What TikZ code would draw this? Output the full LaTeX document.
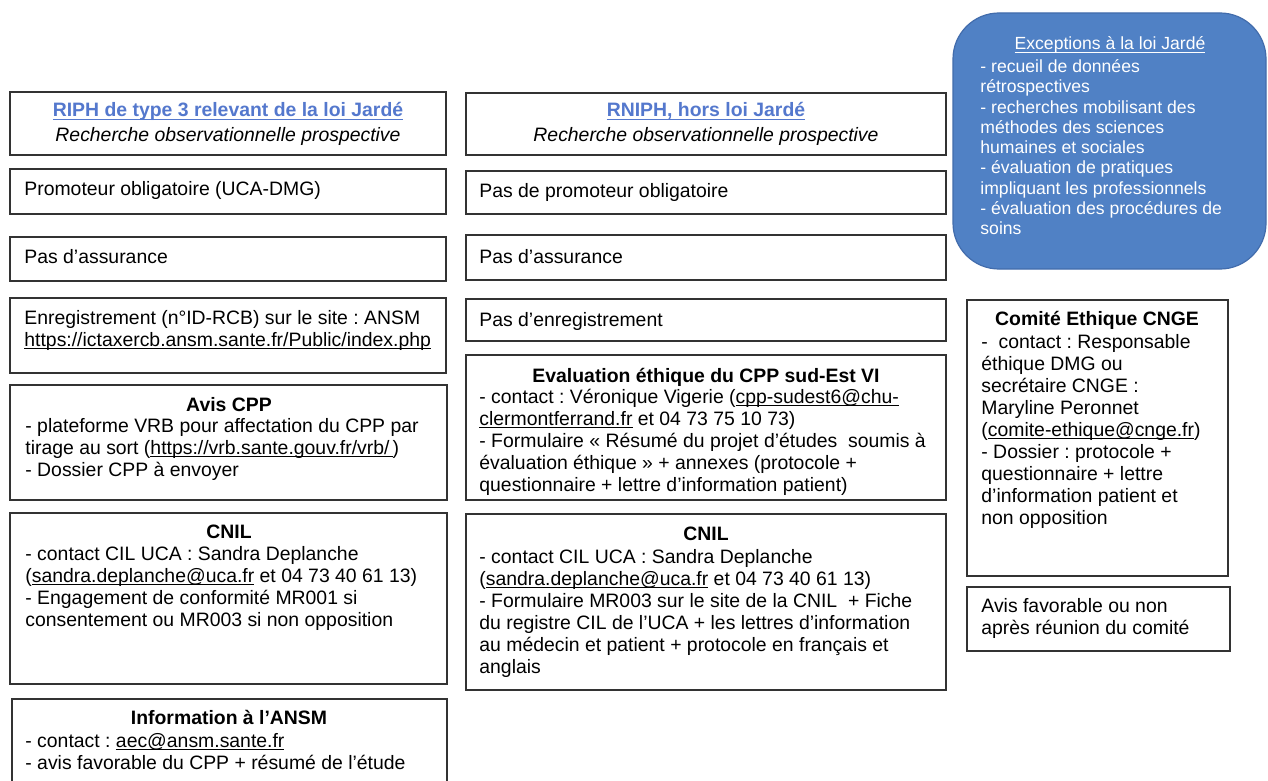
\documentclass[tikz,border=0pt]{standalone}
\usepackage{fontspec}
\setmainfont{Liberation Sans}
\usetikzlibrary{fit}
\definecolor{linkblue}{RGB}{84,120,205}
\definecolor{excfill}{RGB}{80,129,197}
\definecolor{excdraw}{RGB}{66,108,172}
\newsavebox\ulnkbox
\newcommand\ulnk[1]{\sbox\ulnkbox{#1}\rlap{\rule[-1.3pt]{\wd\ulnkbox}{0.5pt}}\usebox\ulnkbox}
\frenchspacing
\tikzset{
  boxst/.style={draw=black!80, line width=0.9pt, inner sep=0pt},
  bodytxt/.style={anchor=north west, inner sep=0pt, align=left, font=\fontsize{9.7}{11}\selectfont},
  titletxt/.style={anchor=base, inner sep=0pt, font=\fontsize{9.7}{11}\selectfont\bfseries},
  subtxt/.style={anchor=base, inner sep=0pt, font=\fontsize{9.7}{11}\selectfont\itshape},
  excbox/.style={draw=excdraw, fill=excfill, line width=0.6pt, rounded corners=23pt, inner sep=0pt},
  exctitle/.style={anchor=base, inner sep=0pt, text=white, font=\fontsize{8.8}{10.15}\selectfont},
  exctxt/.style={anchor=north west, inner sep=0pt, align=left, text=white, font=\fontsize{8.8}{10.15}\selectfont},
}
\begin{document}
\begin{tikzpicture}[x=0.5pt, y=-0.5pt]
\useasboundingbox (0,0) rectangle (1268,781);
\fill[white] (0,0) rectangle (1268,781);
% ---------- left column ----------
\node[boxst, fit={(10,92) (446,155)}] (L1) {};
\node[titletxt, text=linkblue] (L1t) at (228,117) {\ulnk{RIPH de type 3 relevant de la loi Jardé}};
\node[subtxt] (L1s) at (228,141) {Recherche observationnelle prospective};

\node[boxst, fit={(10,169) (446,214)}] (L2) {};
\node[bodytxt] (L2b) at (24,179.6) {\strut Promoteur obligatoire (UCA-DMG)};

\node[boxst, fit={(10,237) (446,281)}] (L3) {};
\node[bodytxt] (L3b) at (24,247.6) {\strut Pas d'assurance};

\node[boxst, fit={(10,298) (446,373)}] (L4) {};
\node[bodytxt] (L4b) at (24,308.6) {\strut Enregistrement (n°ID-RCB) sur le site : ANSM\\
\ulnk{https://ictaxercb.ansm.sante.fr/Public/index.php}};

\node[boxst, fit={(10,385) (447,500)}] (L5) {};
\node[titletxt] (L5t) at (229,411) {Avis CPP};
\node[bodytxt] (L5b) at (25,416.6) {\strut - plateforme VRB pour affectation du CPP par\\
tirage au sort (\ulnk{https://vrb.sante.gouv.fr/vrb/\,})\\
- Dossier CPP à envoyer};

\node[boxst, fit={(10,513) (447,684)}] (L6) {};
\node[titletxt] (L6t) at (229,538) {CNIL};
\node[bodytxt] (L6b) at (25,544.6) {\strut - contact CIL UCA : Sandra Deplanche\\
(\ulnk{sandra.deplanche@uca.fr} et 04 73 40 61 13)\\
- Engagement de conformité MR001 si\\
consentement ou MR003 si non opposition};

\node[boxst, fit={(12,699) (447,800)}] (L7) {};
\node[titletxt] (L7t) at (229,724) {Information à l'ANSM};
\node[bodytxt] (L7b) at (25,731.6) {\strut - contact : \ulnk{aec@ansm.sante.fr}\\
- avis favorable du CPP + résumé de l'étude};

% ---------- middle column ----------
\node[boxst, fit={(466,93) (946,155)}] (M1) {};
\node[titletxt, text=linkblue] (M1t) at (706,117) {\ulnk{RNIPH, hors loi Jardé}};
\node[subtxt] (M1s) at (706,141) {Recherche observationnelle prospective};

\node[boxst, fit={(466,171) (946,214)}] (M2) {};
\node[bodytxt] (M2b) at (479,181.6) {\strut Pas de promoteur obligatoire};

\node[boxst, fit={(466,235) (946,280)}] (M3) {};
\node[bodytxt] (M3b) at (479,247.6) {\strut Pas d'assurance};

\node[boxst, fit={(466,299) (946,341)}] (M4) {};
\node[bodytxt] (M4b) at (479,310.6) {\strut Pas d'enregistrement};

\node[boxst, fit={(466,355) (946,500)}] (M5) {};
\node[titletxt] (M5t) at (706,382) {Evaluation éthique du CPP sud-Est VI};
\node[bodytxt] (M5b) at (479,387.6) {\strut - contact : Véronique Vigerie (\ulnk{cpp-sudest6@chu-}\\
\ulnk{clermontferrand.fr} et 04 73 75 10 73)\\
- Formulaire « Résumé du projet d'études~ soumis à\\
évaluation éthique » + annexes (protocole +\\
questionnaire + lettre d'information patient)};

\node[boxst, fit={(466,514) (946,690)}] (M6) {};
\node[titletxt] (M6t) at (706,540) {CNIL};
\node[bodytxt] (M6b) at (479,547.6) {\strut - contact CIL UCA : Sandra Deplanche\\
(\ulnk{sandra.deplanche@uca.fr} et 04 73 40 61 13)\\
- Formulaire MR003 sur le site de la CNIL~ + Fiche\\
du registre CIL de l'UCA + les lettres d'information\\
au médecin et patient + protocole en français et\\
anglais};

% ---------- right column ----------
\node[excbox, fit={(953,13) (1266,269)}] (R1) {};
\node[exctitle] (R1t) at (1110,50) {\ulnk{Exceptions à la loi Jardé}};
\node[exctxt] (R1b) at (980,57.8) {\strut - recueil de données\\
rétrospectives\\
- recherches mobilisant des\\
méthodes des sciences\\
humaines et sociales\\
- évaluation de pratiques\\
impliquant les professionnels\\
- évaluation des procédures de\\
soins};

\node[boxst, fit={(967,300) (1228,576)}] (R2) {};
\node[titletxt] (R2t) at (1097,325) {Comité Ethique CNGE};
\node[bodytxt] (R2b) at (981,332.6) {\strut -~ contact : Responsable\\
éthique DMG ou\\
secrétaire CNGE :\\
Maryline Peronnet\\
(\ulnk{comite-ethique@cnge.fr})\\
- Dossier : protocole +\\
questionnaire + lettre\\
d'information patient et\\
non opposition};

\node[boxst, fit={(967,587) (1230,651)}] (R3) {};
\node[bodytxt] (R3b) at (981,596.6) {\strut Avis favorable ou non\\
après réunion du comité};
\end{tikzpicture}
\end{document}
